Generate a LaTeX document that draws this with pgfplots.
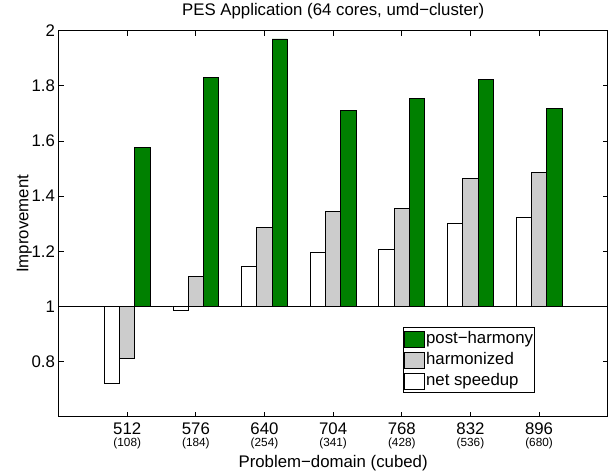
\documentclass[border=0pt]{standalone}
\usepackage{pgfplots}
\pgfplotsset{compat=1.18}
\usepackage{pgfplotstable}
\usepackage{fontspec}
\setmainfont{Liberation Sans}
\definecolor{mgreen}{rgb}{0,0.5,0}
\definecolor{mgray}{rgb}{0.8,0.8,0.8}
\newcommand{\fs}{\fontsize{16.8}{19}\selectfont}
\newcommand{\sfs}{\fontsize{11.8}{12}\selectfont}

\pgfplotstableread{
x net harm post
1 0.720 0.812 1.575
2 0.985 1.110 1.830
3 1.144 1.288 1.970
4 1.195 1.345 1.711
5 1.205 1.355 1.755
6 1.301 1.464 1.823
7 1.323 1.487 1.719
}\data

\begin{document}
\begin{tikzpicture}
\useasboundingbox (-58.6pt,-57.3pt) rectangle (551.4pt,416.7pt);
\begin{axis}[
  at={(0,0)}, anchor=south west,
  scale only axis, width=549.1pt, height=386pt,
  xmin=0, xmax=8, ymin=-0.4, ymax=1,
  xtick={1,...,7},
  xticklabels={{512\\{\sfs (108)}},{576\\{\sfs (184)}},{640\\{\sfs (254)}},{704\\{\sfs (341)}},{768\\{\sfs (428)}},{832\\{\sfs (536)}},{896\\{\sfs (680)}}},
  ytick={-0.2,0,0.2,0.4,0.6,0.8,1},
  yticklabels={0.8,1,1.2,1.4,1.6,1.8,2},
  extra y ticks={0}, extra y tick labels={},
  extra y tick style={grid=major, major grid style={black, line width=0.8pt}},
  xtick pos=both, ytick pos=both,
  tick align=inside, major tick length=5pt,
  axis line style={black, line width=0.8pt},
  tick style={black, line width=0.8pt},
  xticklabel style={align=center, anchor=north, inner sep=0pt, yshift=-5.5pt, font=\fontsize{16.8}{12}\selectfont},
  yticklabel style={anchor=east, inner sep=0pt, xshift=-3.5pt, font=\fs},
  title={PES Application (64 cores, umd−cluster)},
  title style={at={(axis description cs:0.5,1)}, anchor=base, yshift=9.2pt, inner sep=0pt, font=\fs},
  xlabel={Problem−domain (cubed)},
  xlabel style={at={(axis description cs:0.5,0)}, anchor=base, yshift=-50.3pt, inner sep=0pt, font=\fs},
  ylabel={Improvement},
  ylabel style={at={(axis description cs:-0.04826,0.5)}, anchor=south, inner sep=0pt, font=\fs},
  reverse legend,
  legend cell align=left,
  legend style={at={(axis description cs:0.627,0.232)}, anchor=north west, draw=black, line width=0.8pt,
    inner xsep=1.2pt, inner ysep=3pt, row sep=3.3pt, column sep=0.8pt, font=\fs,
    nodes={inner xsep=0.5pt, inner ysep=1pt, text height=12pt, text depth=3.5pt}},
]
\addplot[ybar, bar width=0.223, bar shift=-0.223, fill=white, draw=black, line width=0.8pt,
  legend image code/.code={\draw[fill=white, draw=black, line width=0.8pt] (0pt,-8pt) rectangle (19.5pt,8pt);}]
  table[x=x, y expr=\thisrow{net}-1] {\data};
\addlegendentry{net speedup}
\addplot[ybar, bar width=0.223, bar shift=0, fill=mgray, draw=black, line width=0.8pt,
  legend image code/.code={\draw[fill=mgray, draw=black, line width=0.8pt] (0pt,-8pt) rectangle (19.5pt,8pt);}]
  table[x=x, y expr=\thisrow{harm}-1] {\data};
\addlegendentry{harmonized}
\addplot[ybar, bar width=0.223, bar shift=0.223, fill=mgreen, draw=black, line width=0.8pt,
  legend image code/.code={\draw[fill=mgreen, draw=black, line width=0.8pt] (0pt,-8pt) rectangle (19.5pt,8pt);}]
  table[x=x, y expr=\thisrow{post}-1] {\data};
\addlegendentry{post−harmony}
\end{axis}
\end{tikzpicture}
\end{document}
